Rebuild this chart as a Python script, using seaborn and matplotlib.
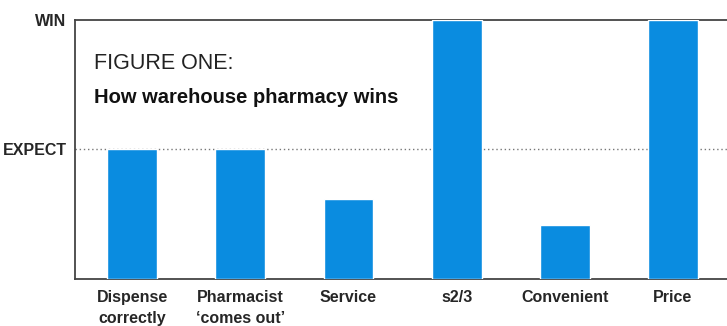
import matplotlib.pyplot as plt
import pandas as pd
import seaborn as sns

# categories and scores (0 = nothing, 50 = expect, 100 = win)
categories = ['Dispense\ncorrectly', 'Pharmacist\n\u2018comes out\u2019', 'Service', 's2/3', 'Convenient', 'Price']
scores = [50, 50, 31, 100, 21, 100]
level_ticks = [50, 100]
level_labels = ['EXPECT', 'WIN']

df = pd.DataFrame({'category': categories, 'score': scores})

sns.set_style('white')
narrow = ['Liberation Sans Narrow', 'Liberation Sans', 'DejaVu Sans']
plt.rcParams['font.family'] = narrow

fig = plt.figure(figsize=(7.27, 3.26), dpi=100)
ax = fig.add_axes([0.103, 0.144, 0.897, 0.795])

sns.barplot(data=df, x='category', y='score', color='#0a8ce0', width=0.46,
            saturation=1, ax=ax, zorder=3)

ax.set_xlim(-0.53, 5.5)
ax.set_ylim(0, 100)
ax.set_yticks(level_ticks)
ax.set_yticklabels(level_labels, fontsize=11.5, fontweight='bold')
ax.tick_params(axis='x', labelsize=11.5, length=0, pad=8)
ax.tick_params(axis='y', length=0, pad=6)
for lab in ax.get_xticklabels():
    lab.set_fontweight('bold')
    lab.set_linespacing(1.45)
ax.set_xlabel('')
ax.set_ylabel('')

# dotted expect line
ax.axhline(50, color='#777777', lw=1, ls=(0, (1, 2)), zorder=1)

for side in ['left', 'bottom', 'top']:
    ax.spines[side].set_visible(True)
    ax.spines[side].set_color('#444444')
    ax.spines[side].set_linewidth(1.3)
ax.spines['right'].set_visible(False)

ax.text(0.03, 0.83, 'FIGURE ONE:', transform=ax.transAxes, fontsize=15.5,
        fontweight='light', color='#222222', va='center')
ax.text(0.03, 0.70, 'How warehouse pharmacy wins', transform=ax.transAxes, fontsize=14.5,
        fontweight='bold', color='#111111', va='center')

fig.savefig('out.png', dpi=100)
